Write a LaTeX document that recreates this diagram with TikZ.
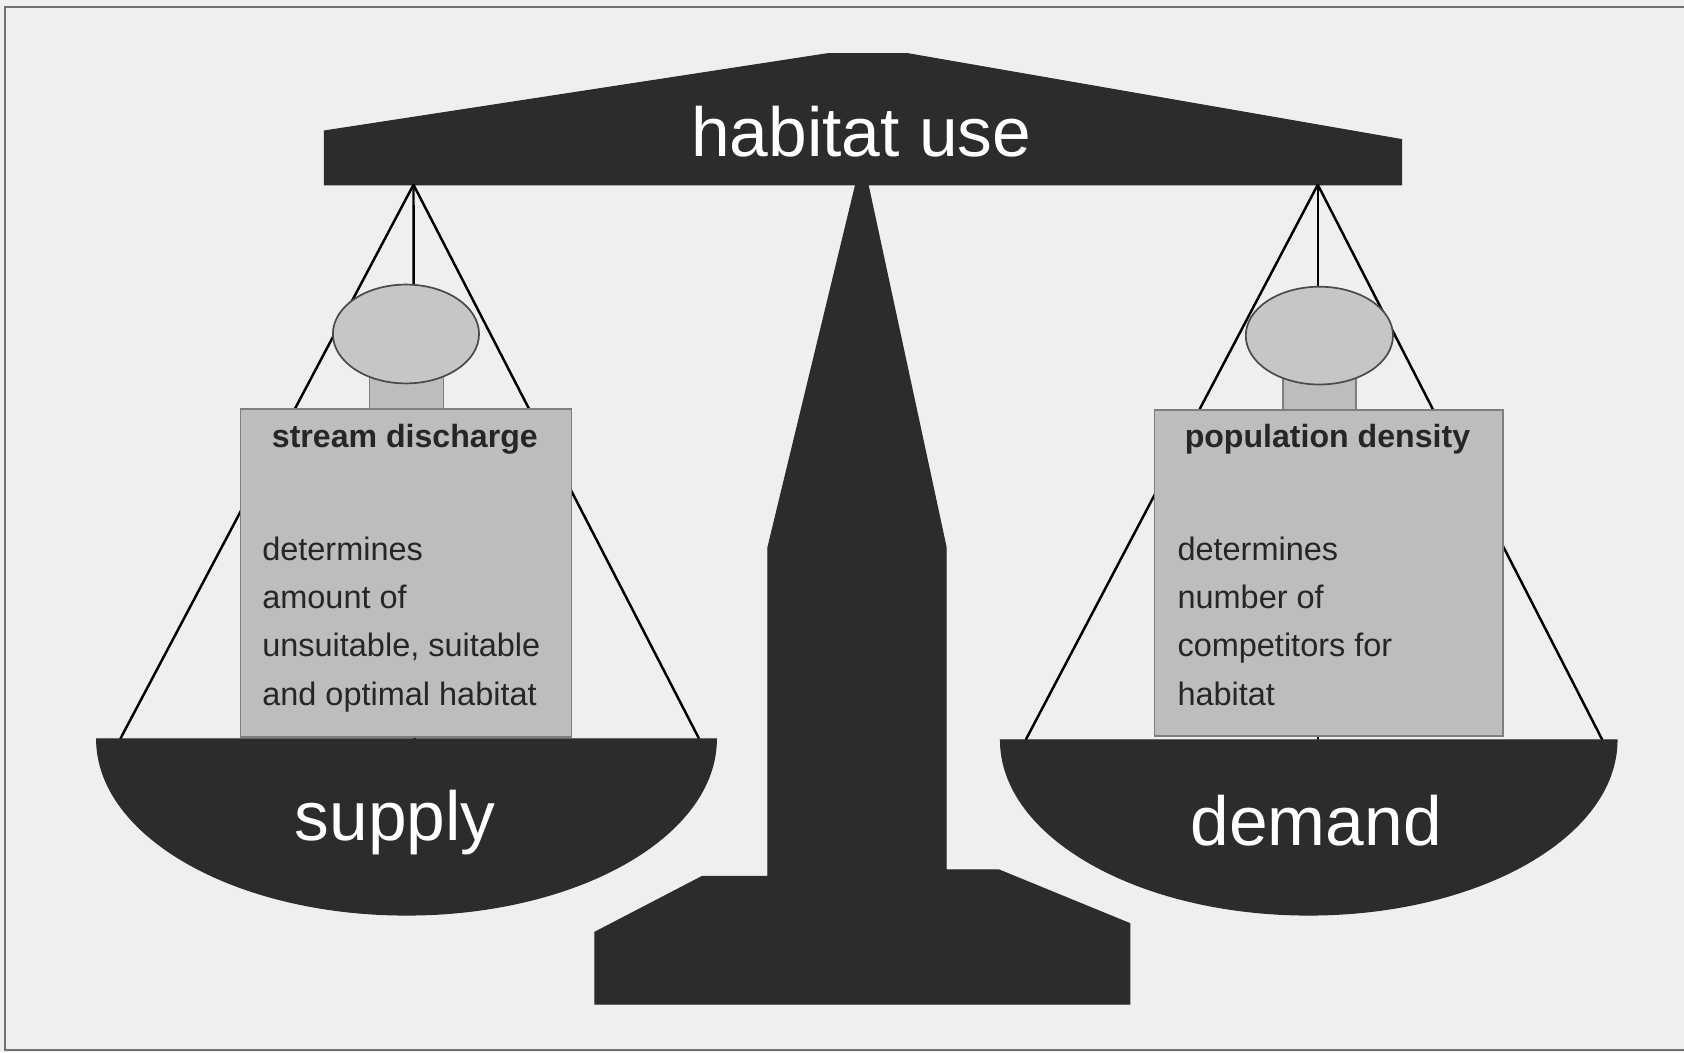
\documentclass[tikz,border=0pt]{standalone}
\usepackage{fontspec}
\setmainfont{Liberation Sans}
\usetikzlibrary{shapes.geometric}
\definecolor{darkc}{HTML}{2B2D2D}
\definecolor{bgc}{HTML}{EFEFF0}
\definecolor{boxc}{HTML}{BDBDBD}
\definecolor{boxedge}{HTML}{7E7E7E}
\definecolor{ellc}{HTML}{C6C6C6}
\definecolor{elledge}{HTML}{4A4A4A}
\definecolor{framec}{HTML}{707070}
\begin{document}
\begin{tikzpicture}[x=0.01cm,y=-0.01cm,
  darkshape/.style={fill=darkc,draw=darkc,line width=0.3pt},
  stringline/.style={draw=black,line width=0.65pt},
  graybox/.style={rectangle,fill=boxc,draw=boxedge,line width=0.45pt,inner sep=0pt},
  weight/.style={ellipse,fill=ellc,draw=elledge,line width=0.45pt,inner sep=0pt},
  neck/.style={fill=boxc,draw=boxedge,line width=0.45pt},
  bigtext/.style={text=white,inner sep=0pt,font=\fontsize{18.4}{22}\selectfont},
  headtext/.style={text=black!85,inner sep=0pt,font=\bfseries\fontsize{8.5}{10}\selectfont},
  bodytext/.style={text=black!85,inner sep=0pt,align=left,font=\fontsize{8.6}{12.8}\selectfont}]
% background and frame
\fill[bgc] (0,0) rectangle (1568,980);
\useasboundingbox (0,0) rectangle (1568,980);
\draw[framec,line width=0.5pt] (1568,6.5) -- (4.7,6.5) -- (4.7,977.5) -- (1568,977.5);
% beam and post
\path[darkshape] (302,122) -- (771,50) -- (845,50) -- (1305,130) -- (1305,172) -- (302,172) -- cycle;
\path[darkshape] (797,171) -- (715,510) -- (715,816) -- (654,816) -- (554,868) -- (554,935)
  -- (1052,935) -- (1052,860) -- (930,810) -- (881,810) -- (881,510) -- (808,171) -- cycle;
\node[bigtext,anchor=base] (use) at (802,146) {habitat use};
% coordinates
\coordinate (LA) at (385,172);
\coordinate (RA) at (1227,172);
\coordinate (LL) at (112,688);
\coordinate (LR) at (651,688);
\coordinate (LM) at (386,688);
\coordinate (RL) at (955,689);
\coordinate (RR) at (1492,689);
\coordinate (RM) at (1227,689);
% strings
\draw[stringline] (LA) -- (LL);
\draw[stringline] (LA) -- (LR);
\draw[stringline] (LA) -- (LM);
\draw[stringline] (RA) -- (RL);
\draw[stringline] (RA) -- (RR);
\draw[stringline] (RA) -- (RM);
% left weight
\path[neck] (344,330) rectangle (413,381);
\node[weight,minimum width=1.36cm,minimum height=0.92cm] (lw) at (378,311) {};
\node[graybox,minimum width=3.08cm,minimum height=3.05cm] (lbox) at (378,533.5) {};
\node[headtext,anchor=base] (lhead) at (377,417) {stream discharge};
\node[bodytext,anchor=north west] (lbody) at (243.5,499) {determines\\amount of\\unsuitable, suitable\\and optimal habitat};
% right weight
\path[neck] (1194.6,330) rectangle (1262.5,381.5);
\node[weight,minimum width=1.37cm,minimum height=0.91cm] (rw) at (1228.5,312.5) {};
\node[graybox,minimum width=3.246cm,minimum height=3.035cm] (rbox) at (1237.3,533.3) {};
\node[headtext,anchor=base] (rhead) at (1236,417) {population density};
\node[bodytext,anchor=north west] (rbody) at (1095.7,499) {determines\\number of\\competitors for\\habitat};
% pans
\path[darkshape] (90,688) -- (667,688) arc[start angle=0,end angle=-180,x radius=288.5,y radius=-164] -- cycle;
\path[darkshape] (931.6,689) -- (1505.6,689) arc[start angle=0,end angle=-180,x radius=287,y radius=-163] -- cycle;
\node[bigtext,anchor=base] (supply) at (368,782.5) {supply};
\node[bigtext,anchor=base] (demand) at (1225.5,787) {demand};
\end{tikzpicture}
\end{document}
